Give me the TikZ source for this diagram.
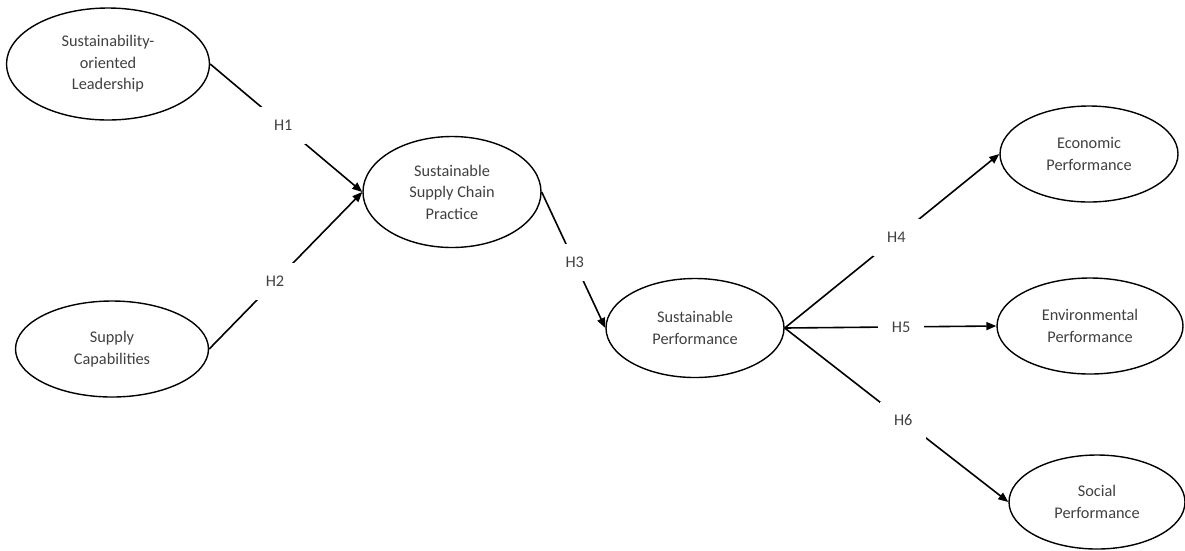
\documentclass[tikz,border=0pt]{standalone}
\usepackage{fontspec}
\setmainfont{Carlito}
\usepackage{tikz}
\usetikzlibrary{shapes, arrows.meta}
\definecolor{txtgray}{rgb}{0.25,0.25,0.25}
\tikzstyle{lv}=[%
      ellipse, draw=black, line width=1.4pt, fill=none, text=txtgray,
      inner sep=0pt, align=center, font=\fontsize{16.3}{21.5}\selectfont
]
\tikzstyle{hyp}=[%
      fill=white, text=txtgray, inner xsep=14pt, inner ysep=13pt,
      font=\fontsize{16.3}{21.5}\selectfont
]
\begin{document}
\begin{tikzpicture}[x=1pt, y=-1pt,
    ->,
    >={Triangle[length=10pt,width=8pt]},
    line width=1.6pt
  ]
    \useasboundingbox (0,0) rectangle (1185,550);

    \node[lv, minimum width=203pt, minimum height=112pt] (sol)  at (108,64)   {Sustainability-\\oriented\\Leadership};
    \node[lv, minimum width=193pt, minimum height=96pt]  (sc)   at (112,349)  {Supply\\Capabilities};
    \node[lv, minimum width=178pt, minimum height=111pt] (sscp) at (452,192)  {Sustainable\\Supply Chain\\Practice};
    \node[lv, minimum width=178pt, minimum height=99pt]  (sp)   at (695,328)  {Sustainable\\Performance};
    \node[lv, minimum width=178pt, minimum height=96pt]  (ep)   at (1089,154) {Economic\\Performance};
    \node[lv, minimum width=186pt, minimum height=96pt]  (env)  at (1090,326) {Environmental\\Performance};
    \node[lv, minimum width=176pt, minimum height=94pt]  (soc)  at (1097,502) {Social\\Performance};

    \path (sol.east)  edge node[hyp, pos=0.48] {H1} (sscp.west)
          (sc.east)   edge node[hyp, pos=0.43] {H2} (sscp.west)
          (sscp.east) edge node[hyp, pos=0.52] {H3} (sp.west)
          (sp.east)   edge node[hyp, pos=0.52] {H4} (ep.west)
          (sp.east)   edge node[hyp, pos=0.55] {H5} (env.west)
          (sp.east)   edge node[hyp, pos=0.53] {H6} (soc.west)
    ;

  \end{tikzpicture}
\end{document}
